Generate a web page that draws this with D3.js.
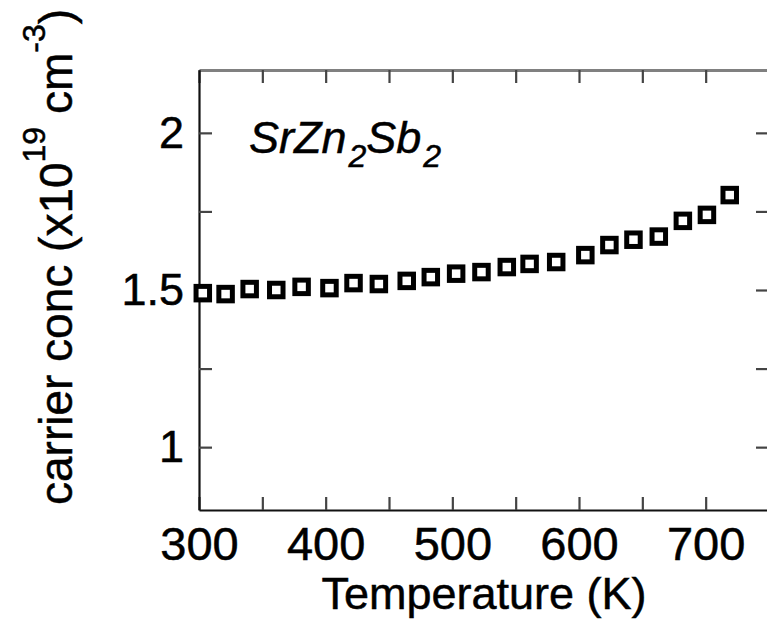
<!DOCTYPE html>
<html lang="en">

<head>
    <meta charset="UTF-8">
    <title>SrZn2Sb2 carrier concentration</title>
    <script src="https://d3js.org/d3.v7.min.js"></script>
    <style>
        body {
            margin: 0;
            background: #fff;
        }

        text {
            font-family: "Liberation Sans", Arial, Helvetica, sans-serif;
            fill: #000;
            stroke: #000;
            stroke-width: 0.5px;
        }

        .point {
            fill: #fff;
            stroke: #000;
            stroke-width: 5px;
        }
    </style>
</head>

<body>
    <svg id="chart"></svg>

    <script>
        // data
        const temperature = [303, 321, 340, 361, 381, 403, 422, 442, 464, 483, 503,
            523, 543, 561, 582, 605, 624, 643, 663, 682, 701, 719];
        const carrierConc = [1.490, 1.487, 1.503, 1.500, 1.510, 1.506, 1.522, 1.519, 1.529, 1.541, 1.552,
            1.557, 1.573, 1.583, 1.589, 1.611, 1.643, 1.660, 1.670, 1.720, 1.739, 1.802];

        const xTicks = [300, 350, 400, 450, 500, 550, 600, 650, 700];
        const xLabels = [300, 400, 500, 600, 700];
        const yTicks = [1, 1.25, 1.5, 1.75, 2];
        const yLabels = [1, 1.5, 2];

        const width = 767;
        const height = 619;
        const margin = { top: 70, right: -2, bottom: 109, left: 199 };

        const svg = d3.select('#chart')
            .attr('width', width)
            .attr('height', height);

        const x = d3.scaleLinear()
            .domain([300, 750])
            .range([margin.left, width - margin.right]);

        const y = d3.scaleLinear()
            .domain([0.8, 2.2])
            .range([height - margin.bottom, margin.top]);

        const tickLen = 13;

        // bottom axis
        const gx = svg.append('g')
            .attr('transform', `translate(0,${y.range()[0]})`)
            .call(d3.axisBottom(x)
                .tickValues(xTicks)
                .tickSizeInner(-tickLen)
                .tickSizeOuter(0)
                .tickPadding(17)
                .tickFormat(d => xLabels.includes(d) ? d : ''));

        // top axis, ticks only
        const gxTop = svg.append('g')
            .attr('transform', `translate(0,${y.range()[1]})`)
            .call(d3.axisTop(x)
                .tickValues(xTicks)
                .tickSizeInner(-tickLen)
                .tickSizeOuter(0)
                .tickFormat(''));

        // left axis
        const gy = svg.append('g')
            .attr('transform', `translate(${x.range()[0]},0)`)
            .call(d3.axisLeft(y)
                .tickValues(yTicks)
                .tickSizeInner(-tickLen)
                .tickSizeOuter(0)
                .tickPadding(15)
                .tickFormat(d => yLabels.includes(d) ? d : ''));

        // right axis, ticks only
        const gyRight = svg.append('g')
            .attr('transform', `translate(${x.range()[1]},0)`)
            .call(d3.axisRight(y)
                .tickValues(yTicks)
                .tickSizeInner(-tickLen)
                .tickSizeOuter(0)
                .tickFormat(''));

        [gx, gxTop, gy, gyRight].forEach(g => {
            g.select('.domain').attr('stroke', '#111').attr('stroke-width', 2.2);
            g.selectAll('.tick line').attr('stroke', '#444').attr('stroke-width', 2.2);
        });
        gxTop.select('.domain').attr('stroke', '#808080').attr('stroke-width', 3);

        gx.selectAll('.tick text')
            .attr('font-size', 47)
            .attr('font-family', '"Liberation Sans", Arial, sans-serif')
            .attr('fill', '#000');

        gy.selectAll('.tick text')
            .attr('font-size', 45)
            .attr('font-family', '"Liberation Sans", Arial, sans-serif')
            .attr('fill', '#000');

        // x label
        svg.append('text')
            .attr('x', (x.range()[0] + x.range()[1]) / 2)
            .attr('y', 609)
            .attr('text-anchor', 'middle')
            .attr('font-size', 45)
            .text('Temperature (K)');

        // y label
        const yl = svg.append('text')
            .attr('transform', 'translate(72,505) rotate(-90)')
            .attr('text-anchor', 'start')
            .attr('font-size', 46);
        yl.append('tspan').text('carrier conc (x10');
        yl.append('tspan').attr('font-size', 32).attr('dy', -27).text('19');
        yl.append('tspan').attr('dy', 27).text(' cm');
        yl.append('tspan').attr('font-size', 32).attr('dy', -27).text('-3');
        yl.append('tspan').attr('dy', 27).text(')');

        // compound label
        const title = svg.append('text')
            .attr('x', 249)
            .attr('y', 153)
            .attr('font-size', 45)
            .attr('font-style', 'italic');
        title.append('tspan').text('SrZn');
        title.append('tspan').attr('font-size', 32).attr('dy', 14).attr('dx', 2).text('2');
        title.append('tspan').attr('dy', -14).text('Sb');
        title.append('tspan').attr('font-size', 32).attr('dy', 14).attr('dx', 2).text('2');

        // data squares
        const size = 13.5;
        svg.append('g')
            .selectAll('rect')
            .data(temperature)
            .enter().append('rect')
            .attr('class', 'point')
            .attr('x', (d, i) => x(d) - size / 2)
            .attr('y', (d, i) => y(carrierConc[i]) - size / 2)
            .attr('width', size)
            .attr('height', size);
    </script>

</body>

</html>
